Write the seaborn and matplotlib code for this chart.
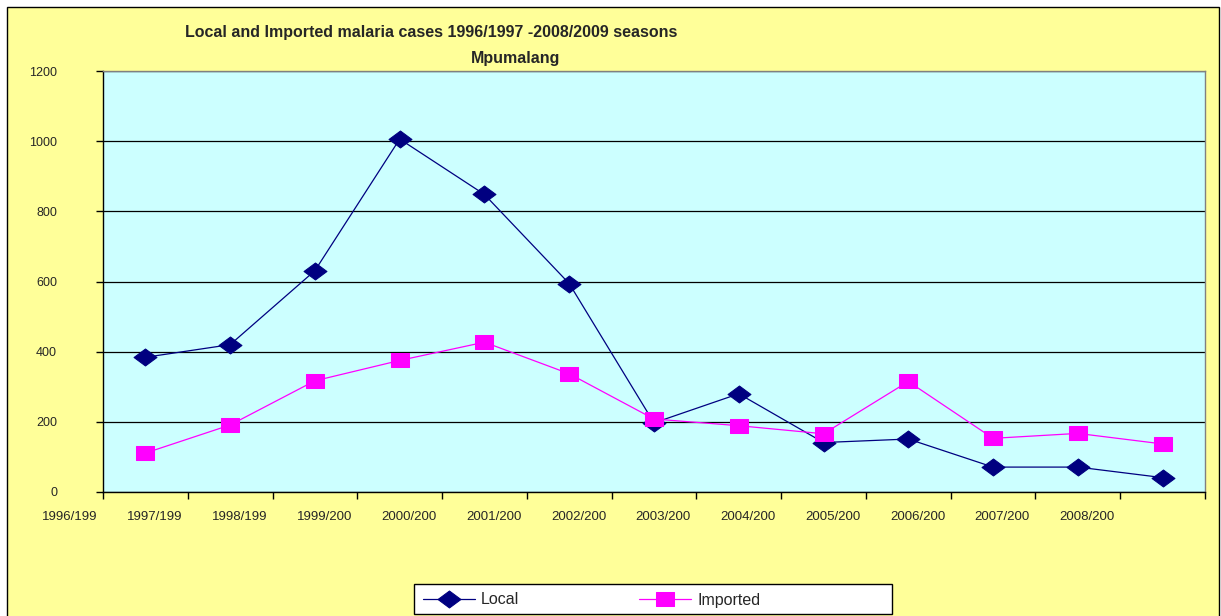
import numpy as np
import pandas as pd
import matplotlib
matplotlib.use("Agg")
import matplotlib.pyplot as plt
import seaborn as sns
from matplotlib.patches import Rectangle
from matplotlib.path import Path

# Season labels shown under the axis (truncated as in the source workbook)
season_labels = ["1996/199", "1997/199", "1998/199", "1999/200", "2000/200",
                 "2001/200", "2002/200", "2003/200", "2004/200", "2005/200",
                 "2006/200", "2007/200", "2008/200"]
local_cases = [384, 420, 631, 1006, 848, 594, 197, 280, 141, 151, 71, 71, 41]
imported_cases = [111, 191, 317, 375, 427, 337, 208, 189, 166, 315, 153, 167, 137]
y_ticks = [0, 200, 400, 600, 800, 1000, 1200]

sns.set_style("white")
plt.rcParams["font.family"] = ["Liberation Sans", "DejaVu Sans"]

W, H = 1221, 616
fig = plt.figure(figsize=(W / 100, H / 100), dpi=100, facecolor="white")

# chart area frame
fig.patches.append(Rectangle((7 / W, -0.05), 1212 / W, 1 - 7 / H + 0.05,
                             transform=fig.transFigure, facecolor="#FFFF99",
                             edgecolor="#000000", linewidth=1.0, zorder=-5))

ax = fig.add_axes([103 / W, 1 - 492 / H, (1205 - 103) / W, (492 - 71) / H])
ax.set_facecolor("#CCFFFF")

df = pd.DataFrame({"pos": np.arange(len(local_cases)),
                   "Local": local_cases,
                   "Imported": imported_cases})

# markers are slightly wider than tall
diamond = Path([(-1, 0), (0, 0.74), (1, 0), (0, -0.74), (-1, 0)],
               [Path.MOVETO, Path.LINETO, Path.LINETO, Path.LINETO, Path.CLOSEPOLY])
box = Path([(-1, -0.7), (1, -0.7), (1, 0.7), (-1, 0.7), (-1, -0.7)],
           [Path.MOVETO, Path.LINETO, Path.LINETO, Path.LINETO, Path.CLOSEPOLY])

sns.lineplot(data=df, x="pos", y="Local", ax=ax, color="#000080",
             marker=diamond, markersize=16.5, markeredgecolor="#000080",
             linewidth=0.9, label="Local", legend=False, zorder=3)
sns.lineplot(data=df, x="pos", y="Imported", ax=ax, color="#FF00FF",
             marker=box, markersize=13.5, markeredgecolor="#FF00FF",
             linewidth=0.9, label="Imported", legend=False, zorder=4)

ax.set_xlim(-0.5, len(local_cases) - 0.5)
ax.set_ylim(0, 1200)
ax.set_yticks(y_ticks)
ax.set_yticklabels([str(v) for v in y_ticks], fontsize=9)
ax.set_xticks(np.arange(-0.5, len(local_cases), 1.0))
ax.set_xticklabels([])
ax.set_xlabel("")
ax.set_ylabel("")
ax.yaxis.grid(True, color="#000000", linewidth=0.9)
ax.xaxis.grid(False)
ax.set_axisbelow(True)
ax.tick_params(axis="y", length=5, width=1, color="#000000", pad=28, left=True)
ax.tick_params(axis="x", length=5, width=1, color="#000000", bottom=True)

for side in ["left", "bottom"]:
    ax.spines[side].set_color("#000000")
    ax.spines[side].set_linewidth(1.0)
for side in ["top", "right"]:
    ax.spines[side].set_color("#808080")
    ax.spines[side].set_linewidth(1.0)

# category labels sit just left of each tick mark
for i, lab in enumerate(season_labels):
    ax.annotate(lab, xy=(i - 0.89, 0), xycoords=("data", "axes fraction"),
                xytext=(0, -18), textcoords="offset points",
                ha="center", va="center", fontsize=9.5, annotation_clip=False)

fig.text(431 / W, 1 - 32 / H,
         "Local and Imported malaria cases 1996/1997 -2008/2009 seasons",
         ha="center", va="center", fontsize=11.5, fontweight="bold")
fig.text(516 / W, 1 - 58 / H, "Mpumalang",
         ha="center", va="center", fontsize=11.5, fontweight="bold")

# legend box
fig.patches.append(Rectangle((414 / W, 1 - 614 / H), 478 / W, 30 / H,
                             transform=fig.transFigure, facecolor="white",
                             edgecolor="#000000", linewidth=1.0, zorder=1))

handles, labels = ax.get_legend_handles_labels()
order = [labels.index("Local"), labels.index("Imported")]
fs_px = 11.5 * 100 / 72
leg = fig.legend([handles[k] for k in order], [labels[k] for k in order],
                 loc="center left", bbox_to_anchor=(423 / W, 1 - 600 / H),
                 ncol=2, frameon=False, fontsize=11.5,
                 handlelength=52 / fs_px, handletextpad=6 / fs_px,
                 columnspacing=120 / fs_px, borderaxespad=0, borderpad=0)
leg.set_zorder(2)

fig.savefig("out.png", dpi=100, facecolor=fig.get_facecolor())
